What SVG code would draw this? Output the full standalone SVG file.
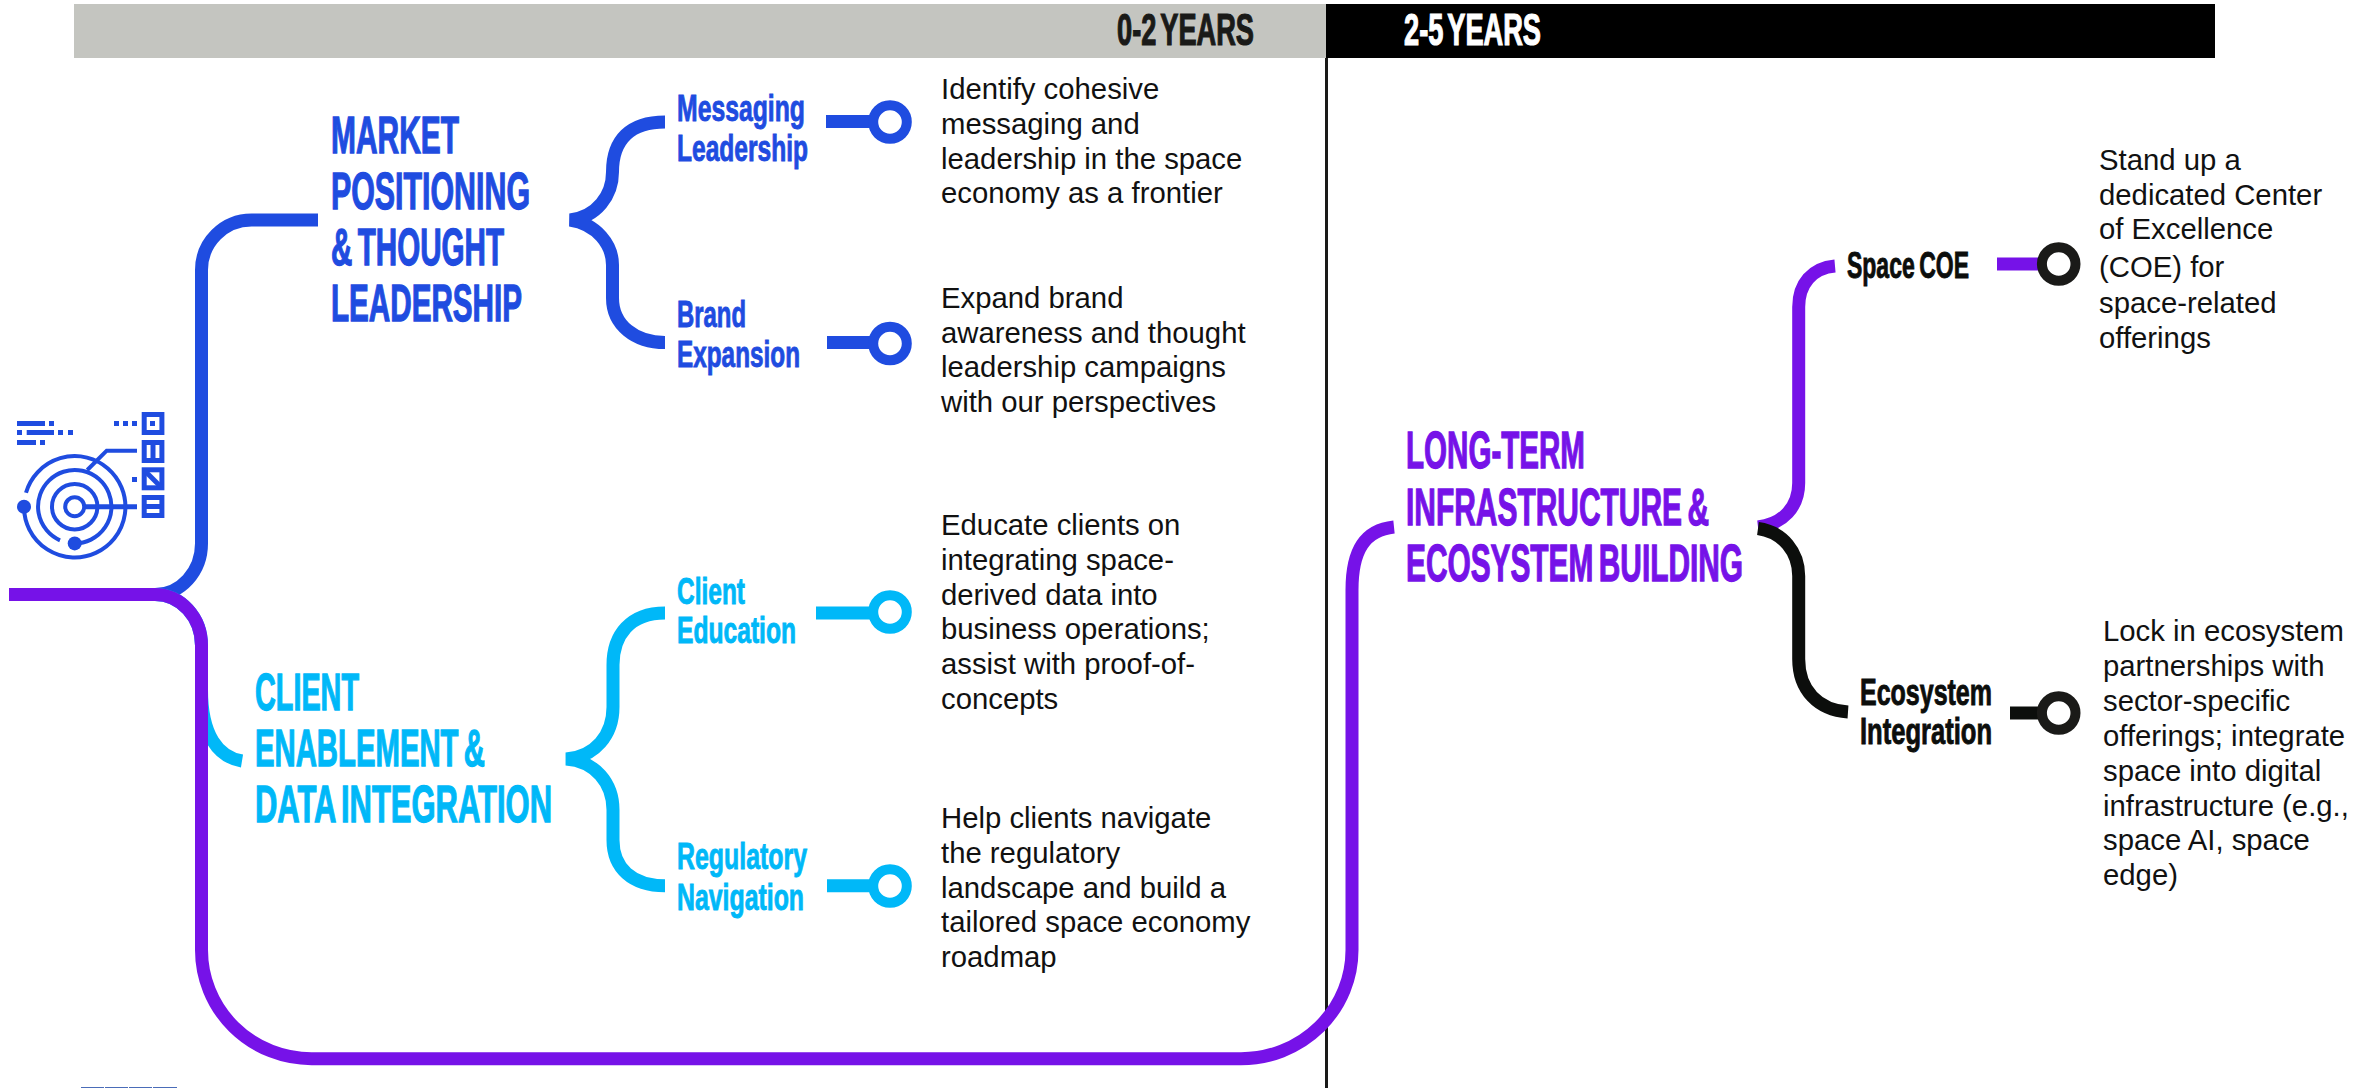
<svg xmlns="http://www.w3.org/2000/svg" width="2371" height="1088" viewBox="0 0 2371 1088">
<style>
.c{fill:none;stroke-width:13}
.blue{stroke:#1f4ce0}.purple{stroke:#7612e8}.cyan{stroke:#00b8f8}.black{stroke:#0c0e0c}
.fb{fill:#1f4ce0;stroke:#1f4ce0}.fp{fill:#7612e8;stroke:#7612e8}.fc{fill:#00b8f8;stroke:#00b8f8}.fk{fill:#0c0e0c;stroke:#0c0e0c}
.h{font:bold 52px "Liberation Sans",Arial,sans-serif;stroke-width:1.3;word-spacing:-5px}
.s{font:bold 37px "Liberation Sans",Arial,sans-serif;stroke-width:.9;word-spacing:-3px}
.y{font:bold 44px "Liberation Sans",Arial,sans-serif;stroke-width:1.2;word-spacing:-5px}
.b{font:29.300px "Liberation Sans",Arial,sans-serif;fill:#111}
.ring{fill:#fff;stroke-width:10}
.ic{fill:none;stroke:#1f4ce0;stroke-width:4}
.icf{fill:#1f4ce0}
</style>
<rect width="2371" height="1088" fill="#fff"/>
<g id="header">
<rect x="74" y="4" width="1252" height="54" fill="#c4c5c0"/>
<rect x="1326" y="4" width="889" height="54" fill="#000"/>
<text class="y" x="1117" y="45" textLength="137" lengthAdjust="spacingAndGlyphs" fill="#1a1a18" stroke="#1a1a18">0-2 YEARS</text>
<text class="y" x="1404" y="45" textLength="137" lengthAdjust="spacingAndGlyphs" fill="#fff" stroke="#fff">2-5 YEARS</text>
<rect x="1325" y="58" width="3" height="1030" fill="#1a1a18"/>
</g>
<g id="connectors">
<path class="c blue" d="M155 594.500A46.500 51 0 0 0 201.500 543.500V270A50 50 0 0 1 251.500 220H318"/>
<path class="c cyan" d="M155 594.500A46.500 51 0 0 1 201.500 645.500V690C201.500 735 218 757 242 761"/>
<path class="c purple" d="M9 594.500H155A46.500 51 0 0 1 201.500 645.500V950A110 108.700 0 0 0 311.500 1058.700H1241A111 108.700 0 0 0 1352 950V590C1352 550 1365 530 1394 527"/>
<path class="c blue" d="M665 122C630 122 612.500 140 612.500 172C612.500 195 597 217 570 220C597 224 612.500 245 612.500 265V298C612.500 325 635 342.500 665 342.500"/>
<path class="c cyan" d="M665 613C630 613 613 635 613 665V707C613 735 595 757 566 759C595 761 613 783 613 810V840C613 868 632 885.700 665 885.700"/>
<path class="c purple" d="M1758 527C1783 524 1798.700 507 1798.700 483V307C1798.700 284 1812 268 1835 266"/>
<path class="c black" d="M1758 528.500C1783 532 1798.700 552 1798.700 576V659C1798.700 690 1818 710 1848 712"/>
<path class="c blue" d="M826 121.500H870M827 342.500H870"/>
<path class="c cyan" d="M816 613H870M827 885.700H870"/>
<path class="c purple" d="M1997 264H2040"/>
<path class="c black" d="M2010 713H2040"/>
</g>
<g id="icon">
<path class="icf" d="M17 421h28v5h-28zM49 421h5v5h-5zM17 430h5v5h-5zM26.700 430h27.300v5h-27.300zM58 430h5v5h-5zM68 430h5v5h-5zM17 440h19v5h-19zM40 440h5v5h-5zM114 421h5v5h-5zM123 421h5v5h-5zM132 421h5v5h-5zM150 421h5v5h-5zM132 477h5v5h-5z"/>
<g class="ic" style="stroke-width:5">
<rect x="144.200" y="414.500" width="17.700" height="18"/>
<rect x="144.200" y="442.500" width="17.700" height="18"/><path d="M153 442V461"/>
<rect x="144.200" y="469.800" width="17.700" height="18"/><path d="M145 471L161 487"/>
<rect x="144.200" y="497.500" width="17.700" height="18"/><path d="M144 506.500H162"/>
<path d="M84 506.700H137"/>
</g>
<circle class="ic" cx="74.700" cy="506.700" r="9.500"/>
<circle class="ic" cx="74.700" cy="506.700" r="22.700"/>
<path class="ic" d="M60 540.300A36.700 36.700 0 1 1 74.700 543.400"/>
<path class="ic" d="M24 506.700A50.700 50.700 0 1 0 26 492.700"/>
<path class="ic" d="M87.300 470L106.700 450.700H137"/>
<circle class="icf" cx="24" cy="506.700" r="7"/>
<circle class="icf" cx="74.700" cy="543.400" r="7"/>
<path d="M81 1087h23v1h-23zM105 1087h23v1h-23zM129 1087h23v1h-23zM153 1087h24v1h-24z" fill="#4a6cb8"/>
</g>
<g id="market">
<text class="h fb" x="331" y="153" textLength="128" lengthAdjust="spacingAndGlyphs">MARKET</text>
<text class="h fb" x="331" y="209" textLength="199" lengthAdjust="spacingAndGlyphs">POSITIONING</text>
<text class="h fb" x="331" y="265" textLength="173" lengthAdjust="spacingAndGlyphs">&amp; THOUGHT</text>
<text class="h fb" x="331" y="321" textLength="191" lengthAdjust="spacingAndGlyphs">LEADERSHIP</text>
</g>
<g id="messaging">
<text class="s fb" x="677" y="121" textLength="128" lengthAdjust="spacingAndGlyphs">Messaging</text>
<text class="s fb" x="677" y="161" textLength="131" lengthAdjust="spacingAndGlyphs">Leadership</text>
<circle class="ring blue" cx="890" cy="122" r="16.800"/>
<g class="b"><text x="941" y="99">Identify cohesive</text><text x="941" y="134">messaging and</text><text x="941" y="168.500">leadership in the space</text><text x="941" y="203">economy as a frontier</text></g>
</g>
<g id="brand">
<text class="s fb" x="677" y="327" textLength="69" lengthAdjust="spacingAndGlyphs">Brand</text>
<text class="s fb" x="677" y="367" textLength="123" lengthAdjust="spacingAndGlyphs">Expansion</text>
<circle class="ring blue" cx="890" cy="343.500" r="16.800"/>
<g class="b"><text x="941" y="307.500">Expand brand</text><text x="941" y="342.500">awareness and thought</text><text x="941" y="377">leadership campaigns</text><text x="941" y="411.500">with our perspectives</text></g>
</g>
<g id="client">
<text class="h fc" x="255" y="710" textLength="104" lengthAdjust="spacingAndGlyphs">CLIENT</text>
<text class="h fc" x="255" y="766" textLength="230" lengthAdjust="spacingAndGlyphs">ENABLEMENT &amp;</text>
<text class="h fc" x="255" y="822" textLength="297" lengthAdjust="spacingAndGlyphs">DATA INTEGRATION</text>
</g>
<g id="education">
<text class="s fc" x="677" y="604" textLength="68" lengthAdjust="spacingAndGlyphs">Client</text>
<text class="s fc" x="677" y="643" textLength="119" lengthAdjust="spacingAndGlyphs">Education</text>
<circle class="ring cyan" cx="890" cy="612" r="16.800"/>
<g class="b"><text x="941" y="535">Educate clients on</text><text x="941" y="570">integrating space-</text><text x="941" y="605">derived data into</text><text x="941" y="639">business operations;</text><text x="941" y="674">assist with proof-of-</text><text x="941" y="709">concepts</text></g>
</g>
<g id="regulatory">
<text class="s fc" x="677" y="869" textLength="130" lengthAdjust="spacingAndGlyphs">Regulatory</text>
<text class="s fc" x="677" y="910" textLength="127" lengthAdjust="spacingAndGlyphs">Navigation</text>
<circle class="ring cyan" cx="890" cy="886" r="16.800"/>
<g class="b"><text x="941" y="828">Help clients navigate</text><text x="941" y="863">the regulatory</text><text x="941" y="898">landscape and build a</text><text x="941" y="932">tailored space economy</text><text x="941" y="967">roadmap</text></g>
</g>
<g id="longterm">
<text class="h fp" x="1406" y="468" textLength="179" lengthAdjust="spacingAndGlyphs">LONG-TERM</text>
<text class="h fp" x="1406" y="525" textLength="303" lengthAdjust="spacingAndGlyphs">INFRASTRUCTURE &amp;</text>
<text class="h fp" x="1406" y="581" textLength="337" lengthAdjust="spacingAndGlyphs">ECOSYSTEM BUILDING</text>
</g>
<g id="spacecoe">
<text class="s fk" x="1847" y="278" textLength="122" lengthAdjust="spacingAndGlyphs">Space COE</text>
<circle class="ring" stroke="#1a1a18" cx="2058.700" cy="264" r="16.800"/>
<g class="b"><text x="2099" y="170">Stand up a</text><text x="2099" y="204.500">dedicated Center</text><text x="2099" y="239">of Excellence</text><text x="2099" y="277">(COE) for</text><text x="2099" y="313">space-related</text><text x="2099" y="348">offerings</text></g>
</g>
<g id="ecosystem">
<text class="s fk" x="1860" y="705" textLength="132" lengthAdjust="spacingAndGlyphs">Ecosystem</text>
<text class="s fk" x="1860" y="744" textLength="132" lengthAdjust="spacingAndGlyphs">Integration</text>
<circle class="ring" stroke="#1a1a18" cx="2058.700" cy="713" r="16.800"/>
<g class="b"><text x="2103" y="641">Lock in ecosystem</text><text x="2103" y="676">partnerships with</text><text x="2103" y="711">sector-specific</text><text x="2103" y="746">offerings; integrate</text><text x="2103" y="781">space into digital</text><text x="2103" y="816">infrastructure (e.g.,</text><text x="2103" y="850">space AI, space</text><text x="2103" y="885">edge)</text></g>
</g>
</svg>
